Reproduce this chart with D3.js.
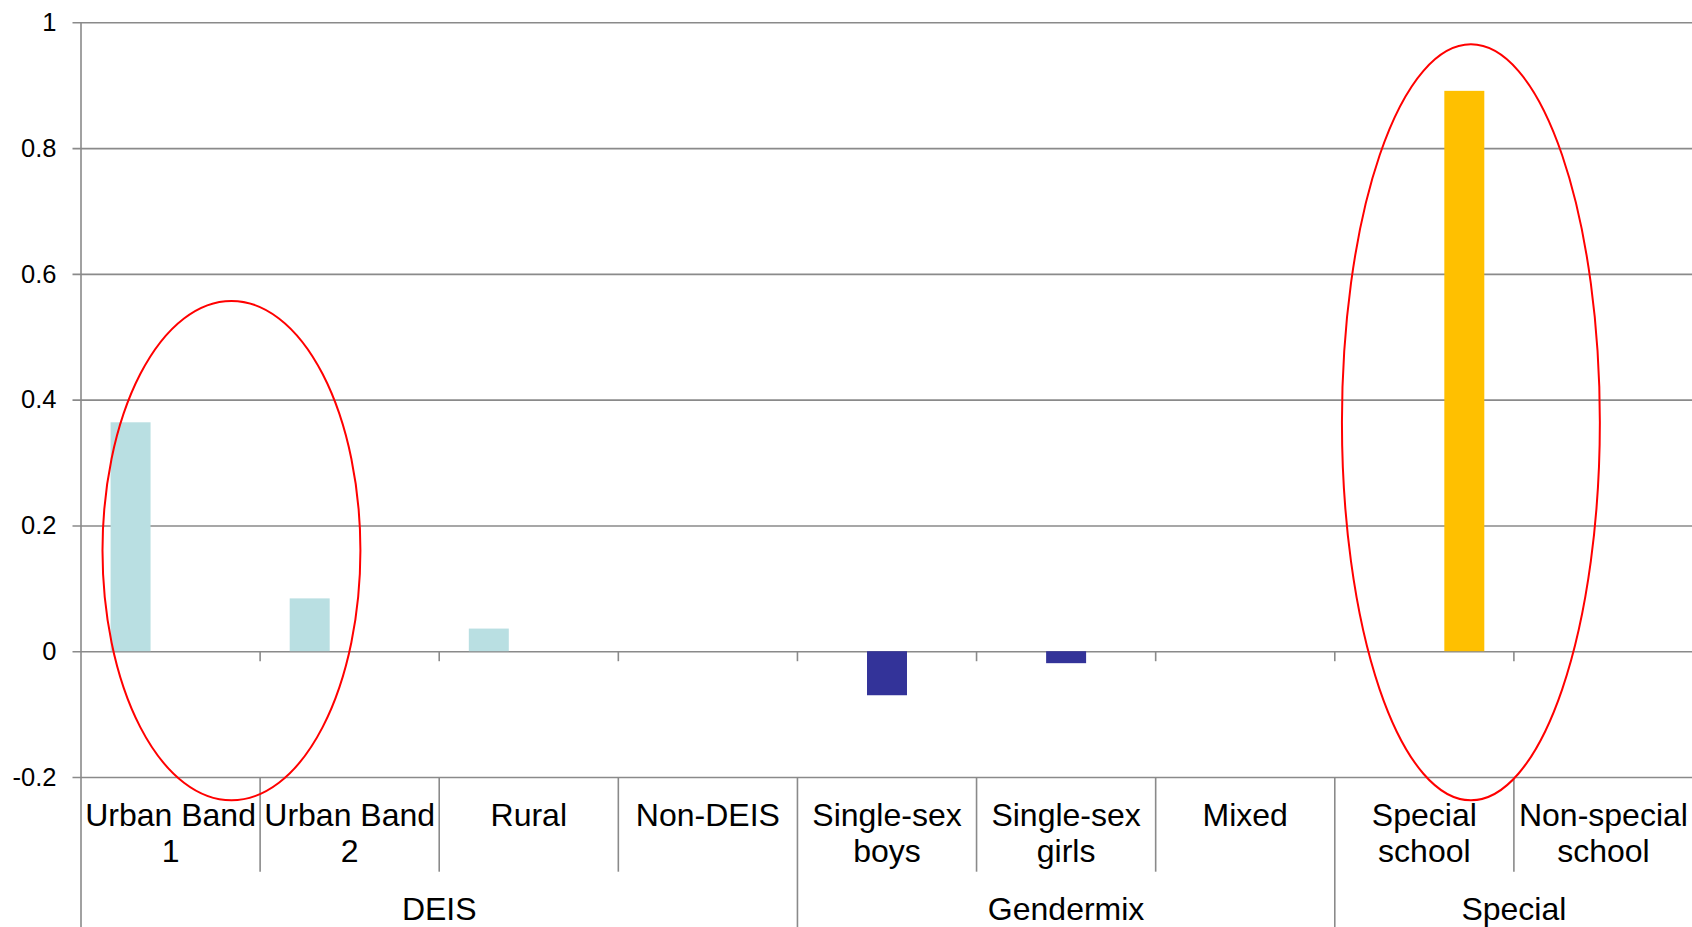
<!DOCTYPE html>
<html>
<head>
<meta charset="utf-8">
<script src="https://cdn.jsdelivr.net/npm/d3@7"></script>
<style>
  html, body { margin: 0; padding: 0; background: #ffffff; }
  svg { display: block; font-family: "Liberation Sans", Arial, sans-serif; }
</style>
</head>
<body>
<svg id="chart" width="1692" height="927"></svg>
<script>
// Categories along the x axis and the group each belongs to
const categories = ["Urban Band 1", "Urban Band 2", "Rural", "Non-DEIS",
  "Single-sex boys", "Single-sex girls", "Mixed",
  "Special school", "Non-special school"];
const categoryGroup = ["DEIS", "DEIS", "DEIS", "DEIS",
  "Gendermix", "Gendermix", "Gendermix",
  "Special", "Special"];
const groupNames = ["DEIS", "Gendermix", "Special"];

// Series (one per group); null where a series has no bar
const seriesNames = ["DEIS", "Gendermix", "Special"];
const seriesColors = ["#b9dfe2", "#333399", "#ffc000"];
const deisValues      = [0.364, 0.084, 0.036, 0, null, null, null, null, null];
const gendermixValues = [null, null, null, null, -0.070, -0.019, 0, null, null];
const specialValues   = [null, null, null, null, null, null, null, 0.891, 0];

// Y axis ticks
const yTicks = [-0.2, 0, 0.2, 0.4, 0.6, 0.8, 1];
const yTickLabels = ["-0.2", "0", "0.2", "0.4", "0.6", "0.8", "1"];

// Highlight ellipses: category, position within the band, centre value, value half-height
const ellipseCategory = ["Urban Band 1", "Special school"];
const ellipseBandPos  = [0.84, 0.76];
const ellipseCentre   = [0.16, 0.364];
const ellipseHalfSpan = [0.397, 0.601];

const seriesValues = [deisValues, gendermixValues, specialValues];

const svg = d3.select("#chart");
const plotLeft = 81, plotRight = 1693, plotTop = 22.3, plotBottom = 777, svgHeight = 927;

const x = d3.scaleBand().domain(categories).range([plotLeft, plotRight]).paddingInner(0).paddingOuter(0);
const x1 = d3.scaleBand().domain(seriesNames).range([0, x.bandwidth()]).paddingInner(0).paddingOuter(0.74);
const y = d3.scaleLinear().domain([-0.2, 1]).range([plotBottom, plotTop]);

const gridColor = "#8a8a8a";

// Horizontal gridlines (with left tick marks)
const yAxis = d3.axisLeft(y).tickValues(yTicks)
  .tickFormat((d, i) => yTickLabels[i])
  .tickSize(-(plotRight - plotLeft)).tickPadding(16);
const gy = svg.append("g").attr("transform", `translate(${plotLeft},0)`).call(yAxis);
gy.select(".domain").remove();
gy.selectAll(".tick line").attr("stroke", gridColor).attr("stroke-width", 1.6).attr("x1", -8.5);
gy.selectAll(".tick text").attr("font-size", 25.5).attr("fill", "#000")
  .attr("font-family", "'Liberation Sans', Arial, sans-serif").attr("x", -24.5);

// Bars
seriesNames.forEach((s, si) => {
  const data = categories.map((c, i) => ({ c, v: seriesValues[si][i] })).filter(d => d.v !== null);
  svg.append("g").selectAll("rect").data(data).join("rect")
    .attr("x", d => x(d.c) + x1(s))
    .attr("width", x1.bandwidth())
    .attr("y", d => y(Math.max(0, d.v)))
    .attr("height", d => Math.abs(y(d.v) - y(0)))
    .attr("fill", seriesColors[si]);
});

// Zero line tick marks at category boundaries
const boundaries = categories.slice(1).map(c => x(c));
svg.append("g").selectAll("line").data(boundaries).join("line")
  .attr("x1", d => d).attr("x2", d => d)
  .attr("y1", y(0)).attr("y2", y(0) + 10)
  .attr("stroke", gridColor).attr("stroke-width", 1.6);

// Category separators below the plot
const groupStarts = categories.map((c, i) => i === 0 || categoryGroup[i] !== categoryGroup[i - 1]);
svg.append("g").selectAll("line").data(categories.map((c, i) => ({ c, i })).filter(d => d.i > 0)).join("line")
  .attr("x1", d => x(d.c)).attr("x2", d => x(d.c))
  .attr("y1", plotBottom)
  .attr("y2", d => groupStarts[d.i] ? svgHeight : 871.7)
  .attr("stroke", gridColor).attr("stroke-width", 1.6);

// Y axis line
svg.append("line").attr("x1", plotLeft).attr("x2", plotLeft).attr("y1", plotTop).attr("y2", svgHeight)
  .attr("stroke", gridColor).attr("stroke-width", 1.6);

// Category labels, wrapped to the band width
const catFont = 32;
const labels = svg.append("g").attr("font-size", catFont).attr("fill", "#000").attr("text-anchor", "middle");
categories.forEach(c => {
  const cx = x(c) + x.bandwidth() / 2;
  const t = labels.append("text").attr("x", cx).attr("y", 825.7);
  const words = c.split(" ");
  let line = [];
  let tspan = t.append("tspan").attr("x", cx).attr("dy", 0);
  words.forEach(w => {
    line.push(w);
    tspan.text(line.join(" "));
    if (tspan.node().getComputedTextLength() > x.bandwidth() - 6 && line.length > 1) {
      line.pop();
      tspan.text(line.join(" "));
      line = [w];
      tspan = t.append("tspan").attr("x", cx).attr("dy", 36).text(w);
    }
  });
});

// Group labels
groupNames.forEach(g => {
  const members = categories.filter((c, i) => categoryGroup[i] === g);
  const gx0 = x(members[0]);
  const gx1 = x(members[members.length - 1]) + x.bandwidth();
  svg.append("text").attr("x", (gx0 + gx1) / 2).attr("y", 920)
    .attr("text-anchor", "middle").attr("font-size", catFont).attr("fill", "#000").text(g);
});

// Highlight ellipses
ellipseCategory.forEach((c, i) => {
  const cy = y(ellipseCentre[i]);
  const ry = y(ellipseCentre[i] - ellipseHalfSpan[i]) - cy;
  svg.append("ellipse")
    .attr("cx", x(c) + ellipseBandPos[i] * x.bandwidth())
    .attr("cy", cy)
    .attr("rx", 0.72 * x.bandwidth())
    .attr("ry", ry)
    .attr("fill", "none").attr("stroke", "#ff0000").attr("stroke-width", 2);
});
</script>
</body>
</html>
